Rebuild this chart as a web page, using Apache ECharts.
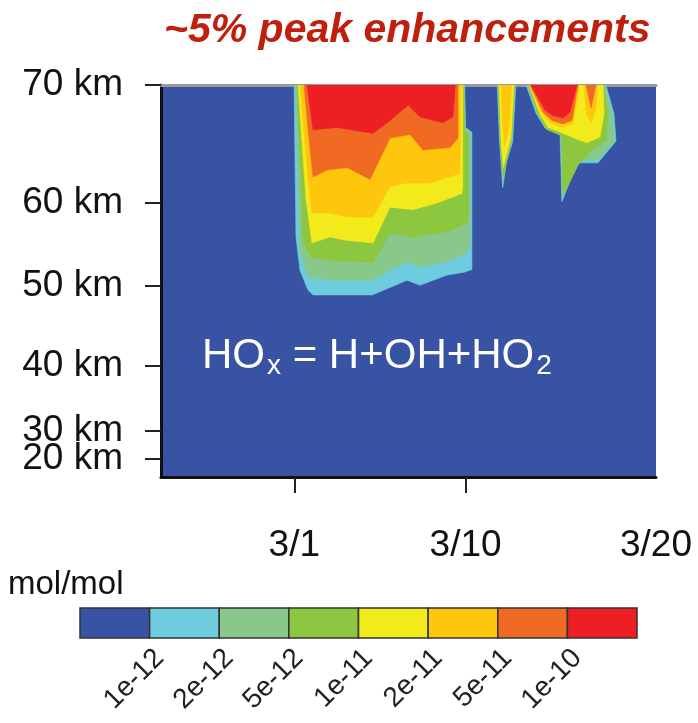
<!DOCTYPE html>
<html>
<head>
<meta charset="utf-8">
<title>HOx enhancement</title>
<script src="https://cdn.jsdelivr.net/npm/echarts@6/dist/echarts.min.js"></script>
<style>
html, body { margin: 0; padding: 0; background: #fff; }
#hox_chart { width: 698px; height: 723px; }
</style>
</head>
<body>
<div id="hox_chart"></div>
<script>
// contour levels, mol/mol
var levelLabels = ['1e-12', '2e-12', '5e-12', '1e-11', '2e-11', '5e-11', '1e-10'];
// x axis: day of March
var dayTicks = [1, 10];
var dayLabels = [1, 10, 20];
// y axis: altitude (km) and where it sits on the model level coordinate (0 bottom .. 100 top)
var altKm = [20, 30, 40, 50, 60, 70];
var altLevel = [4.6, 11.7, 28.3, 48.7, 69.9, 100];

// contour outlines for each level, points are [day of March, km]
var hox1e12 = [
    [[0.99, 70], [1.09, 55.9], [1.30, 51.9], [1.72, 49.5], [1.99, 48.9], [5.1, 48.9], [6.92, 50.7], [7.6, 50.1], [9.0, 51.3], [9.97, 51.7], [10.33, 52.0], [10.33, 66.0], [10.0, 66.4], [9.95, 70]],
    [[11.66, 70], [11.78, 65.3], [11.95, 61.3], [12.14, 63.4], [12.47, 65.2], [12.64, 70]],
    [[13.17, 70], [13.70, 67.6], [14.17, 66.35], [14.96, 65.8], [15.06, 60.1], [15.85, 63.4], [16.95, 63.4], [17.9, 65.25], [17.79, 67.6], [17.37, 70]]
];
var hox2e12 = [
    [[1.07, 70], [1.3, 54.3], [1.72, 51.1], [2.88, 50.7], [5.14, 50.7], [6.03, 51.9], [6.92, 52.9], [7.6, 52.3], [9.0, 52.9], [10.07, 54.0], [10.25, 55.0], [10.25, 66.0], [9.98, 66.3], [9.92, 70]],
    [[11.7, 70], [11.8, 65.3], [11.96, 61.7], [12.12, 63.6], [12.44, 65.3], [12.6, 70]],
    [[13.23, 70], [13.75, 67.6], [14.22, 66.3], [15.01, 65.8], [15.06, 60.4], [16.01, 63.6], [16.95, 63.7], [17.85, 65.3], [17.69, 67.6], [17.32, 70]]
];
var hox5e12 = [
    [[1.15, 70], [1.46, 55.5], [1.83, 53.5], [2.88, 53.1], [5.14, 52.8], [6.03, 56.4], [7.24, 55.9], [9.0, 56.5], [10.07, 57.6], [10.15, 58.5], [10.15, 65.8], [9.95, 66.2], [9.88, 70]],
    [[11.73, 70], [11.83, 65.3], [11.97, 62.3], [12.41, 65.4], [12.57, 70]],
    [[13.28, 70], [13.80, 67.6], [14.28, 66.2], [15.06, 65.7], [15.12, 60.7], [15.9, 63.2], [16.53, 64.3], [17.37, 65.3], [17.48, 67.6], [17.22, 70]]
];
var hox1e11 = [
    [[1.2, 70], [1.62, 60.25], [1.93, 55.2], [2.88, 55.9], [3.77, 55.5], [5.14, 55.2], [6.03, 59.5], [7.24, 59.2], [8.5, 60.0], [9.81, 60.8], [9.85, 61.5], [9.85, 70]],
    [[11.76, 70], [11.86, 65.3], [11.98, 63.0], [12.38, 65.5], [12.54, 70]],
    [[13.33, 70], [13.91, 67.5], [14.33, 66.4], [15.12, 65.9], [16.01, 65.3], [16.38, 65.1], [17.06, 65.6], [17.27, 67.6], [17.22, 70]]
];
var hox2e11 = [
    [[1.3, 70], [1.72, 62.0], [1.93, 58.8], [2.88, 58.8], [3.77, 58.3], [5.14, 58.3], [6.03, 61.4], [6.92, 61.7], [8.13, 61.7], [9.7, 62.5], [9.75, 70]],
    [[11.86, 70], [11.95, 66.5], [12.05, 64.8], [12.3, 66.6], [12.42, 70]],
    [[13.35, 70], [13.96, 67.7], [14.43, 66.8], [15.06, 66.4], [15.6, 66.7], [15.85, 68.5], [15.95, 70]],
    [[16.2, 70], [16.35, 67.5], [16.6, 66.8], [16.85, 68.0], [16.95, 70]]
];
var hox5e11 = [
    [[1.51, 70], [1.83, 64.5], [1.99, 62.2], [2.72, 62.8], [3.77, 63.0], [4.98, 62.0], [6.03, 65.5], [7.08, 65.8], [7.76, 64.5], [9.18, 64.7], [9.6, 65.5], [9.6, 70]],
    [[13.38, 70], [14.07, 67.7], [14.54, 67.0], [15.12, 66.7], [15.59, 67.0], [15.9, 70]],
    [[16.32, 70], [16.59, 68.05], [16.85, 70]]
];
var hox1e10 = [
    [[1.67, 70], [1.99, 66.2], [3.25, 66.4], [5.14, 65.9], [6.03, 67.0], [6.98, 68.3], [7.6, 67.3], [8.81, 66.8], [9.34, 67.3], [9.45, 70]],
    [[13.43, 70], [14.17, 67.9], [14.59, 67.4], [15.12, 67.2], [15.48, 67.7], [15.85, 70]]
];

var contours = [hox1e12, hox2e12, hox5e12, hox1e11, hox2e11, hox5e11, hox1e10];
// first colour is the background band (below 1e-12)
var bandColors = ['#3953a4', '#6dccdd', '#88c98b', '#8dc63f', '#f3ea1c', '#fec70e', '#f06a24', '#ed1f24'];
var fontName = '"Liberation Sans", Arial, Helvetica, sans-serif';

var hox_chart = {
    chart : null,
    /**
     * 初始化
     */
    init : function() {
        this.chart = echarts.init(document.getElementById('hox_chart'));
        this.chart.setOption(this.buildOption());
    },
    /**
     * altitude -> model level coordinate
     */
    kmToLevel : function(km) {
        var n = altKm.length;
        var i = 0;
        if (km <= altKm[0]) {
            i = 0;
        } else if (km >= altKm[n - 1]) {
            i = n - 2;
        } else {
            while (km > altKm[i + 1]) {
                i++;
            }
        }
        var t = (km - altKm[i]) / (altKm[i + 1] - altKm[i]);
        return altLevel[i] + t * (altLevel[i + 1] - altLevel[i]);
    },
    /**
     * y axis for every other altitude tick, so that close labels (20/30 km) both stay
     */
    altAxis : function(parity, showLine) {
        var vals = [];
        for (var i = parity; i < altLevel.length; i += 2) {
            vals.push(altLevel[i]);
        }
        return {
            gridIndex : 0,
            type : 'value',
            position : 'left',
            min : 0,
            max : 100,
            axisLine : { show : showLine, onZero : false, lineStyle : { color : '#111', width : 3 } },
            axisTick : { show : true, customValues : vals, length : 16, lineStyle : { color : '#222', width : 2 } },
            axisLabel : {
                customValues : vals,
                hideOverlap : false,
                margin : 38,
                fontSize : 37,
                color : '#111',
                fontFamily : fontName,
                formatter : function(v) {
                    return altKm[altLevel.indexOf(v)] + ' km';
                }
            },
            splitLine : { show : false }
        };
    },
    buildOption : function() {
        var items = [];
        for (var lv = 0; lv < contours.length; lv++) {
            for (var p = 0; p < contours[lv].length; p++) {
                items.push([lv, p]);
            }
        }
        var slots = [];
        for (var k = 0; k < bandColors.length; k++) {
            slots.push([k, 0]);
        }
        var barTicks = [];
        for (var b = 1; b < bandColors.length; b++) {
            barTicks.push(b);
        }

        return {
            animation : false,
            title : {
                text : '~5% peak enhancements',
                left : 159,
                top : 5,
                textStyle : {
                    color : '#bf200e',
                    fontSize : 41,
                    fontWeight : 'bold',
                    fontStyle : 'italic',
                    fontFamily : fontName
                }
            },
            grid : [ {
                left : 161,
                right : 42,
                top : 85,
                bottom : 246,
                show : true,
                backgroundColor : bandColors[0],
                borderWidth : 0,
                outerBoundsMode : 'none'
            }, {
                left : 80,
                right : 61,
                top : 608,
                height : 30,
                outerBoundsMode : 'none'
            } ],
            xAxis : [ {
                gridIndex : 0,
                type : 'value',
                min : -6,
                max : 20,
                axisLine : { show : true, onZero : false, lineStyle : { color : '#111', width : 3 } },
                axisTick : { show : true, customValues : dayTicks, length : 16, lineStyle : { color : '#222', width : 2 } },
                axisLabel : {
                    customValues : dayLabels,
                    showMaxLabel : true,
                    hideOverlap : false,
                    margin : 50,
                    fontSize : 37,
                    color : '#111',
                    fontFamily : fontName,
                    formatter : function(v) {
                        return '3/' + v;
                    }
                },
                splitLine : { show : false }
            }, {
                gridIndex : 0,
                type : 'value',
                position : 'top',
                min : -6,
                max : 20,
                axisLine : { show : true, onZero : false, lineStyle : { color : '#9a9a9a', width : 3 } },
                axisTick : { show : false },
                axisLabel : { show : false },
                splitLine : { show : false }
            }, {
                gridIndex : 1,
                type : 'value',
                min : 0,
                max : bandColors.length,
                axisLine : { show : false },
                axisTick : { show : false },
                splitLine : { show : false },
                axisLabel : {
                    customValues : barTicks,
                    hideOverlap : false,
                    rotate : 45,
                    verticalAlign : 'top',
                    margin : 6,
                    fontSize : 28,
                    color : '#222',
                    fontFamily : fontName,
                    formatter : function(v) {
                        return levelLabels[v - 1];
                    }
                }
            } ],
            yAxis : [ this.altAxis(0, true), this.altAxis(1, false), {
                gridIndex : 1,
                type : 'value',
                min : 0,
                max : 1,
                show : false
            } ],
            graphic : [ {
                type : 'text',
                left : 202,
                top : 335,
                z : 100,
                style : {
                    text : '{m|HO}{s|x}{m| = H+OH+HO}{s|2}',
                    rich : {
                        m : { fontSize : 42, fill : '#fff', fontFamily : fontName, verticalAlign : 'top' },
                        s : { fontSize : 28, fill : '#fff', fontFamily : fontName, verticalAlign : 'top', padding : [ 17, 0, 0, 2 ] }
                    }
                }
            }, {
                type : 'text',
                left : 8,
                top : 568,
                style : {
                    text : 'mol/mol',
                    fontSize : 33,
                    fill : '#111',
                    fontFamily : fontName
                }
            } ],
            series : [ {
                type : 'custom',
                xAxisIndex : 0,
                yAxisIndex : 0,
                clip : true,
                data : items,
                renderItem : function(params, api) {
                    var it = items[params.dataIndex];
                    var poly = contours[it[0]][it[1]];
                    var pts = [];
                    for (var j = 0; j < poly.length; j++) {
                        pts.push(api.coord([ poly[j][0], hox_chart.kmToLevel(poly[j][1]) ]));
                    }
                    var c = bandColors[it[0] + 1];
                    return {
                        type : 'polygon',
                        shape : { points : pts },
                        style : { fill : c, stroke : c, lineWidth : 0.6 }
                    };
                }
            }, {
                type : 'custom',
                xAxisIndex : 2,
                yAxisIndex : 2,
                data : slots,
                renderItem : function(params, api) {
                    var i = params.dataIndex;
                    var p0 = api.coord([ i, 1 ]);
                    var p1 = api.coord([ i + 1, 0 ]);
                    return {
                        type : 'rect',
                        shape : { x : p0[0], y : p0[1], width : p1[0] - p0[0], height : p1[1] - p0[1] },
                        style : { fill : bandColors[i], stroke : '#333', lineWidth : 1.5 }
                    };
                }
            } ]
        };
    }
};

hox_chart.init();
</script>
</body>
</html>
